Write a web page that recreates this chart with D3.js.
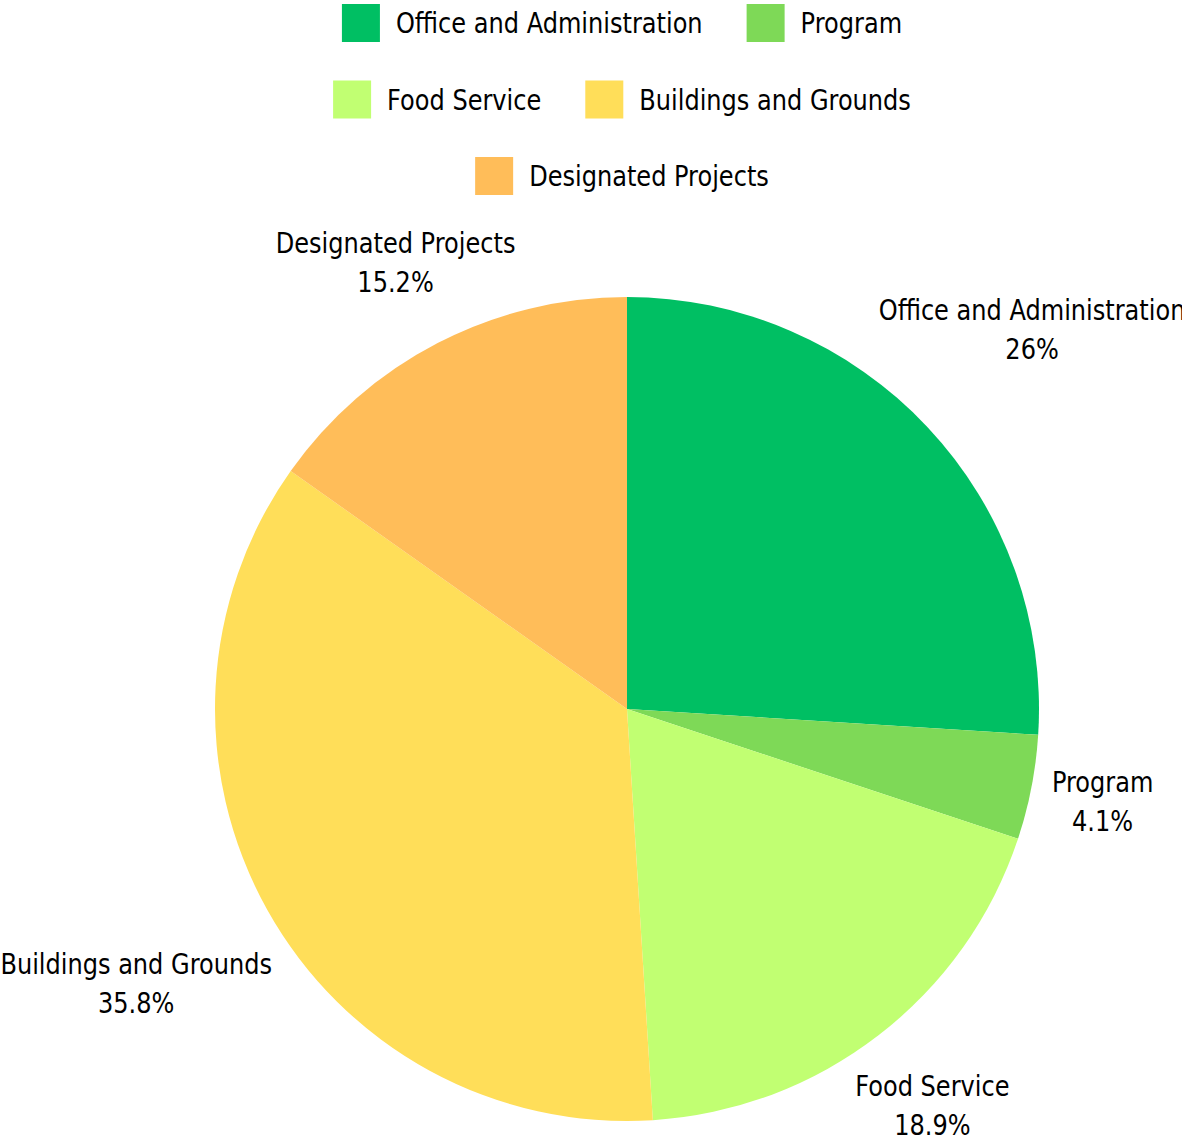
<!DOCTYPE html>
<html>
<head>
<meta charset="utf-8">
<script src="https://cdn.jsdelivr.net/npm/d3@7"></script>
<style>
  html, body { margin: 0; padding: 0; background: #fff; overflow: hidden; }
  .lbl { font-family: "DejaVu Sans", sans-serif; fill: #000; }
</style>
</head>
<body>
<svg width="1182" height="1143"></svg>
<script>
// slice data
var categories = ["Office and Administration", "Program", "Food Service", "Buildings and Grounds", "Designated Projects"];
var values = [26, 4.1, 18.9, 35.8, 15.2];
var labels = ["26%", "4.1%", "18.9%", "35.8%", "15.2%"];
var colors = ["#00bf63", "#7ed957", "#c1ff72", "#ffde59", "#ffbd59"];

var data = categories.map(function(c, i) {
  return {name: c, value: values[i], label: labels[i]};
});

var svg = d3.select("svg");
var fontSize = 29;
var squeeze = 0.83; // the reference face is condensed, narrow the glyphs

var color = d3.scaleOrdinal().domain(categories).range(colors);

// legend : wraps items into centred rows
var sw = 38, textGap = 16, itemGap = 44, rowStep = 76.5, maxRow = 700, legendCx = 622;
var legend = svg.append("g");
var items = legend.selectAll("g").data(categories).enter().append("g");
items.append("rect")
    .attr("width", sw).attr("height", sw)
    .attr("y", -sw / 2)
    .style("fill", function(d) { return color(d); });
items.append("g")
    .attr("transform", "translate(" + (sw + textGap) + "," + (fontSize * 0.36) + ")")
  .append("g")
    .attr("transform", "scale(" + squeeze + ",1)")
  .append("text")
    .attr("class", "lbl")
    .attr("font-size", fontSize)
    .text(function(d) { return d; });

var rows = [], row = [], rowW = 0;
items.each(function() {
  var w = sw + textGap + d3.select(this).select("text").node().getBBox().width * squeeze;
  var add = row.length ? itemGap + w : w;
  if (row.length && rowW + add > maxRow) { rows.push({items: row, w: rowW}); row = []; rowW = 0; add = w; }
  row.push({node: this, w: w});
  rowW += add;
});
rows.push({items: row, w: rowW});
rows.forEach(function(r, ri) {
  var x = legendCx - r.w / 2;
  r.items.forEach(function(it) {
    d3.select(it.node).attr("transform", "translate(" + x + "," + (23 + ri * rowStep) + ")");
    x += it.w + itemGap;
  });
});

// pie
var cx = 627, cy = 709, radius = 412, labelGap = 17;
var pie = d3.pie().sort(null).value(function(d) { return d.value; });
var arc = d3.arc().innerRadius(0).outerRadius(radius);
var g = svg.append("g").attr("transform", "translate(" + cx + "," + cy + ")");
var arcs = pie(data);

g.selectAll("path").data(arcs).enter().append("path")
    .attr("d", arc)
    .style("fill", function(d) { return color(d.data.name); });

// outside labels : push the text box out along the mid angle until
// its nearest corner clears the circle
var lineH = 39;
var lab = g.selectAll("g.lab").data(arcs).enter().append("g").attr("class", "lab");
lab.append("g")
    .attr("transform", "scale(" + squeeze + ",1)")
  .append("text")
    .attr("class", "lbl")
    .attr("text-anchor", "middle")
    .attr("font-size", fontSize)
    .each(function(d) {
      var t = d3.select(this);
      t.append("tspan").attr("x", 0).attr("y", -lineH / 2 + fontSize * 0.36).text(d.data.name);
      t.append("tspan").attr("x", 0).attr("y", lineH / 2 + fontSize * 0.36).text(d.data.label);
    });
lab.attr("transform", function(d) {
  var w = d3.select(this).select("text").node().getBBox().width * squeeze;
  var h = 66;
  var a = (d.startAngle + d.endAngle) / 2;
  var ux = Math.sin(a), uy = -Math.cos(a);
  var hx = w / 2 * (ux < 0 ? -1 : 1), hy = h / 2 * (uy < 0 ? -1 : 1);
  // solve |t*u - (hx,hy)| = radius + labelGap
  var R = radius + labelGap;
  var b = ux * hx + uy * hy;
  var c = hx * hx + hy * hy - R * R;
  var t = b + Math.sqrt(b * b - c);
  return "translate(" + (t * ux) + "," + (t * uy) + ")";
});
</script>
</body>
</html>
